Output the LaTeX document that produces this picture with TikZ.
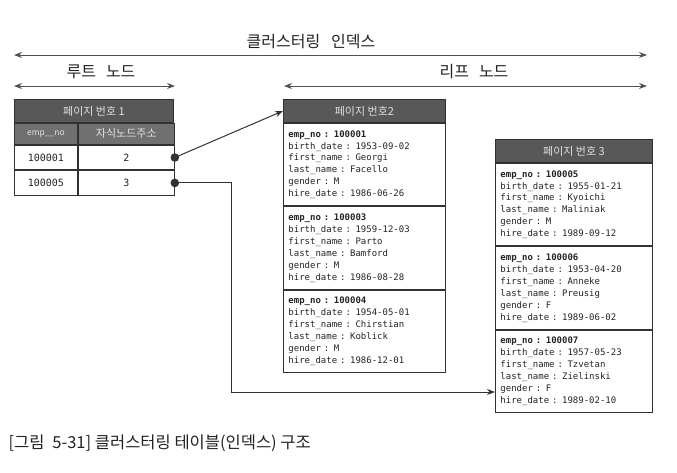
\documentclass[tikz,border=0pt]{standalone}
\usepackage{fontspec}
\setmainfont{Noto Sans CJK KR}
\setmonofont{DejaVu Sans Mono}
\usetikzlibrary{positioning,arrows.meta}
\definecolor{headgray}{RGB}{88,88,88}
\definecolor{subgray}{RGB}{112,112,112}
\definecolor{headtext}{RGB}{225,225,225}
\definecolor{linegray}{RGB}{50,50,50}
\definecolor{inkgray}{RGB}{35,35,35}
\tikzstyle{head}=[draw=linegray,line width=0.9pt,fill=headgray,text=headtext,font=\fontsize{11}{13}\selectfont,minimum height=23pt,inner sep=0pt]
\tikzstyle{sub}=[draw=linegray,line width=0.9pt,fill=subgray,text=headtext,font=\fontsize{11}{13}\selectfont,minimum height=21pt,inner sep=0pt]
\tikzstyle{cell}=[draw=linegray,line width=0.9pt,text=inkgray,font=\ttfamily\fontsize{10}{12}\selectfont,minimum height=24.5pt,inner sep=0pt]
\tikzstyle{rec}=[draw=linegray,line width=0.9pt,text=inkgray,align=left,text width=152pt,inner xsep=5pt,inner ysep=2pt,minimum height=82.5pt,font=\ttfamily\fontsize{9}{11.9}\selectfont]
\tikzstyle{heading}=[text=inkgray,font=\fontsize{16}{18}\selectfont]
\tikzstyle{span}=[draw=linegray!85,line width=1pt,{Stealth[length=8pt,width=6pt]}-{Stealth[length=8pt,width=6pt]}]
\tikzstyle{link}=[draw=linegray,line width=1pt,-{Stealth[length=8pt,width=6pt]}]

\begin{document}
\begin{tikzpicture}[x=1pt,y=-1pt]
    \useasboundingbox (0,0) rectangle (677,472);
    % dimension arrows
    \node[heading] (tidx) at (311,42) {클러스터링\hspace{11pt}인덱스};
    \node[heading] (troot) at (101,72) {루트\hspace{10pt}노드};
    \node[heading] (tleaf) at (474,72) {리프\hspace{10pt}노드};
    \coordinate (idxL) at (14,55);
    \coordinate (idxR) at (647,55);
    \coordinate (rootL) at (14,86);
    \coordinate (rootR) at (175,86);
    \coordinate (leafL) at (284,86);
    \coordinate (leafR) at (647,86);
    \draw[span] (idxL) -- (idxR);
    \draw[span] (rootL) -- (rootR);
    \draw[span] (leafL) -- (leafR);

    % root node
    \node[head,minimum width=159pt,anchor=north west] (rhead) at (14,99) {페이지 번호 1};
    \node[sub,minimum width=63pt,anchor=north west,font=\fontsize{8.5}{10}\selectfont] (rcolkey) at (rhead.south west) {emp\_\_no};
    \node[sub,minimum width=96pt,right=0pt of rcolkey] (rcoladdr) {자식노드주소};
    \node[cell,minimum width=63pt,below=0pt of rcolkey] (rkey1) {100001};
    \node[cell,minimum width=96pt,right=0pt of rkey1] (raddr1) {2};
    \node[cell,minimum width=63pt,below=0pt of rkey1] (rkey2) {100005};
    \node[cell,minimum width=96pt,right=0pt of rkey2] (raddr2) {3};

    % leaf page 2
    \node[head,minimum width=162pt,anchor=north west] (p2head) at (283,99) {페이지 번호2};
    \node[rec,below=0pt of p2head] (p2a) {\textbf{emp\_no : 100001}\\birth\_date : 1953-09-02\\first\_name : Georgi\\last\_name : Facello\\gender : M\\hire\_date : 1986-06-26};
    \node[rec,below=0pt of p2a] (p2b) {\textbf{emp\_no : 100003}\\birth\_date : 1959-12-03\\first\_name : Parto\\last\_name : Bamford\\gender : M\\hire\_date : 1986-08-28};
    \node[rec,below=0pt of p2b] (p2c) {\textbf{emp\_no : 100004}\\birth\_date : 1954-05-01\\first\_name : Chirstian\\last\_name : Koblick\\gender : M\\hire\_date : 1986-12-01};

    % leaf page 3
    \node[head,minimum width=157pt,anchor=north west] (p3head) at (495,139) {페이지 번호 3};
    \node[rec,text width=147pt,below=0pt of p3head] (p3a) {\textbf{emp\_no : 100005}\\birth\_date : 1955-01-21\\first\_name : Kyoichi\\last\_name : Maliniak\\gender : M\\hire\_date : 1989-09-12};
    \node[rec,text width=147pt,below=0pt of p3a] (p3b) {\textbf{emp\_no : 100006}\\birth\_date : 1953-04-20\\first\_name : Anneke\\last\_name : Preusig\\gender : F\\hire\_date : 1989-06-02};
    \node[rec,text width=147pt,below=0pt of p3b] (p3c) {\textbf{emp\_no : 100007}\\birth\_date : 1957-05-23\\first\_name : Tzvetan\\last\_name : Zielinski\\gender : F\\hire\_date : 1989-02-10};

    % pointers
    \coordinate (bend) at (231,392);
    \draw[link] (raddr1.east) -- (p2head.west);
    \draw[link] (raddr2.east) -| (bend) -- (bend -| p3c.west);
    \fill[linegray] (raddr1.east) circle (4.3pt);
    \fill[linegray] (raddr2.east) circle (4.3pt);

    % caption
    \node[anchor=west,text=inkgray,font=\fontsize{16.5}{18}\selectfont] (cap) at (5,443) {[그림\hspace{8pt}5-31] 클러스터링 테이블(인덱스) 구조};
\end{tikzpicture}
\end{document}
